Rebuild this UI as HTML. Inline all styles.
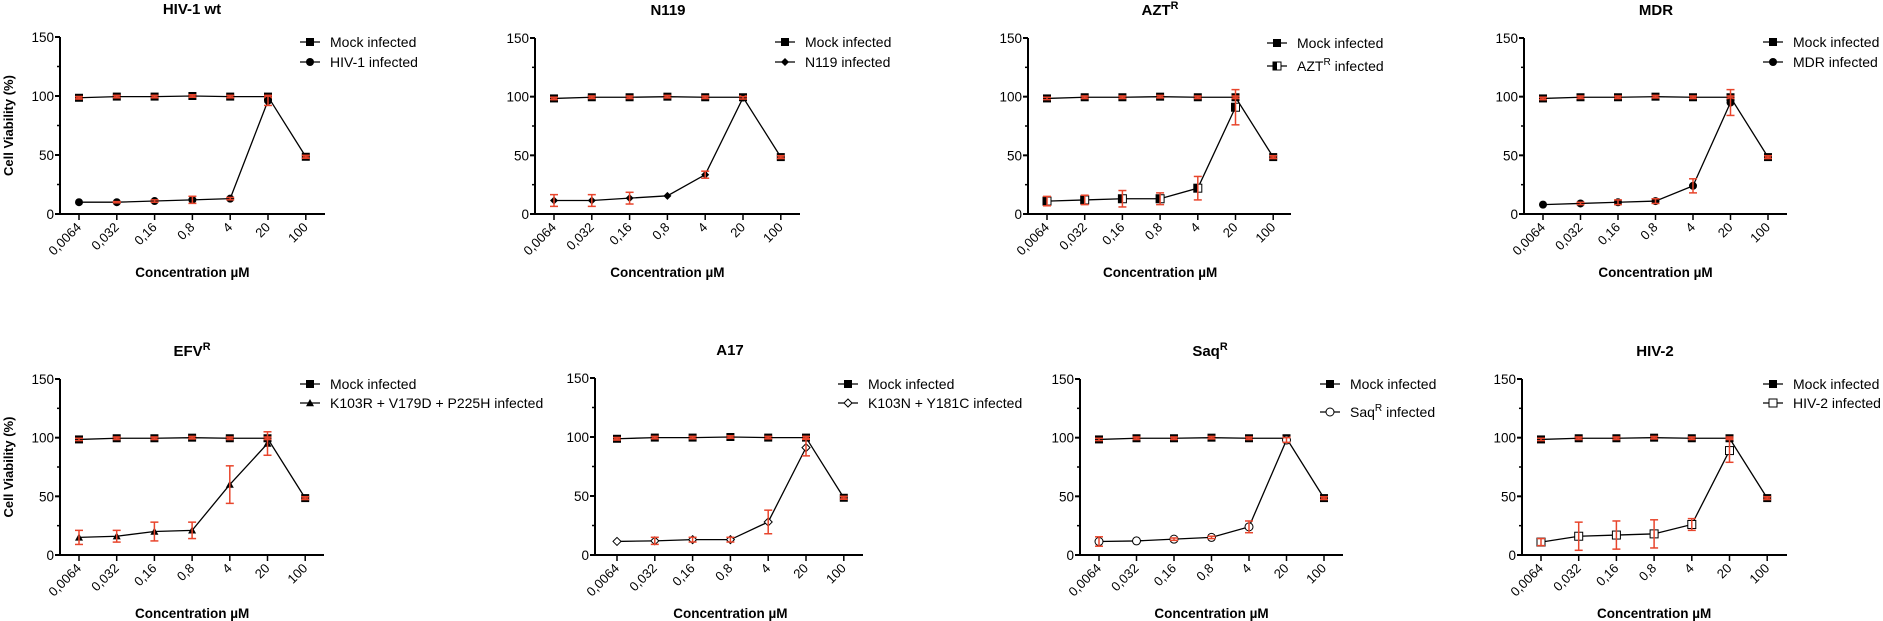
<!DOCTYPE html>
<html><head><meta charset="utf-8"><style>
html,body{margin:0;padding:0;background:#fff;}
svg{display:block;font-family:"Liberation Sans",Arial,sans-serif;}
</style></head><body>
<svg id="fig" width="1883" height="621" viewBox="0 0 1883 621" xmlns="http://www.w3.org/2000/svg"></svg>
<script>
const categories = ["0,0064","0,032","0,16","0,8","4","20","100"];
const yTicks = [0,50,100,150];
const mockValues = [98.5,99.5,99.5,100,99.5,99.5,48.5];
const mockErrors = [1,1,1,1,1,1,1.2];
const panelTitles = ["HIV-1 wt","N119","AZT|R","MDR","EFV|R","A17","Saq|R","HIV-2"];
const infectedLabels = ["HIV-1 infected","N119 infected","AZT|R| infected","MDR infected","K103R + V179D + P225H  infected","K103N + Y181C  infected","Saq|R| infected","HIV-2 infected"];
const markerTypes = ["circle","diamond","halfsquare","circle","triangle","opendiamond","opencircle","opensquare"];
const infected1 = [10,10,11,12,13,96];
const infected2 = [11.5,11.5,13.5,15.5,33.5,99];
const infected3 = [11,12,13,13,22,91];
const infected4 = [8,9,10,11,24,95];
const infected5 = [15,16,20,21,60,95];
const infected6 = [11.5,12,13,13,28,91];
const infected7 = [11.5,12,13.5,15,24,98];
const infected8 = [11,16,17,18,26,89];
const errors1 = [0,0.5,1,3,1,4];
const errors2 = [5,5,5,0,3,1];
const errors3 = [4,4,7,5,10,15];
const errors4 = [0,1,2,2,6,11];
const errors5 = [6,5,8,7,16,10];
const errors6 = [0,3,2,2,10,7];
const errors7 = [4,0,1,1,5,2];
const errors8 = [3,12,12,12,5,10];
const infectedSeries = [infected1,infected2,infected3,infected4,infected5,infected6,infected7,infected8];
const errorSeries = [errors1,errors2,errors3,errors4,errors5,errors6,errors7,errors8];

// layout (not data)
const layouts = [
 {ax:60, x0:79, dx:37.8, xEnd:325, yTop:37, yBot:214, legX:300, legY:[42,62], titleX:192},
 {ax:535, x0:554, dx:37.8, xEnd:800, yTop:38, yBot:214, legX:775, legY:[42,62], titleX:668},
 {ax:1028, x0:1047, dx:37.7, xEnd:1291, yTop:38, yBot:214, legX:1267, legY:[43,66], titleX:1160},
 {ax:1524, x0:1543, dx:37.5, xEnd:1787, yTop:38, yBot:214, legX:1763, legY:[42,62], titleX:1656},
 {ax:60, x0:79, dx:37.7, xEnd:324, yTop:379, yBot:555, legX:300, legY:[384,403], titleX:192},
 {ax:595, x0:617, dx:37.8, xEnd:863, yTop:378, yBot:555, legX:838, legY:[384,403], titleX:730},
 {ax:1080, x0:1099, dx:37.5, xEnd:1343, yTop:379, yBot:555, legX:1320, legY:[384,412], titleX:1210},
 {ax:1522, x0:1541, dx:37.7, xEnd:1787, yTop:379, yBot:555, legX:1763, legY:[384,403], titleX:1655}
];
const RED = "#e8452c";
const svg = document.getElementById('fig');
const NS = "http://www.w3.org/2000/svg";
function mk(tag, attrs, parent){ const e=document.createElementNS(NS,tag); for(const k in attrs) e.setAttribute(k,attrs[k]); (parent||svg).appendChild(e); return e; }
function richText(el, s){
  const parts = s.split('|');
  parts.forEach((p,i)=>{ if(!p) return; const t=document.createElementNS(NS,'tspan');
    if(i%2===1){ t.setAttribute('dy','-6'); t.setAttribute('font-size','0.72em'); }
    else if(i>0){ t.setAttribute('dy','6'); }
    t.textContent=p; el.appendChild(t); });
}
function marker(g,type,x,y,s){
  s=s||4;
  let m;
  if(type==='square'){ m=mk('rect',{x:x-s,y:y-s,width:2*s,height:2*s,fill:'#000'},g); }
  else if(type==='circle'){ m=mk('circle',{cx:x,cy:y,r:s,fill:'#000'},g); }
  else if(type==='opencircle'){ m=mk('circle',{cx:x,cy:y,r:s,fill:'#fff',stroke:'#000','stroke-width':1},g); }
  else if(type==='diamond'){ m=mk('polygon',{points:`${x},${y-s} ${x+s},${y} ${x},${y+s} ${x-s},${y}`,fill:'#000'},g); }
  else if(type==='opendiamond'){ m=mk('polygon',{points:`${x},${y-s} ${x+s},${y} ${x},${y+s} ${x-s},${y}`,fill:'#fff',stroke:'#000','stroke-width':1},g); }
  else if(type==='triangle'){ m=mk('polygon',{points:`${x},${y-s} ${x+s},${y+s*0.8} ${x-s},${y+s*0.8}`,fill:'#000'},g); }
  else if(type==='opensquare'){ m=mk('rect',{x:x-s,y:y-s,width:2*s,height:2*s,fill:'#fff',stroke:'#000','stroke-width':1},g); }
  else if(type==='halfsquare'){ m=mk('rect',{x:x-s,y:y-s,width:2*s,height:2*s,fill:'#fff',stroke:'#000','stroke-width':1},g);
    mk('rect',{x:x-s,y:y-s,width:s,height:2*s,fill:'#000'},g); }
  return m;
}
layouts.forEach((L,p)=>{
  const g = mk('g',{});
  
  
  const yS = v => L.yBot - (v/150)*(L.yBot-L.yTop);
  const xS = i => L.x0 + i*L.dx;
  // title
  const t = mk('text',{x:L.titleX,y:L.yTop-23,'text-anchor':'middle','font-size':15,'font-weight':'bold',fill:'#000'},g);
  
  
  richText(t,panelTitles[p]);
  // axes
  const ya = mk('line',{x1:L.ax,y1:L.yTop,x2:L.ax,y2:L.yBot+1,stroke:'#000','stroke-width':2},g);
  
  
  const xa = mk('line',{x1:L.ax-1,y1:L.yBot,x2:L.xEnd,y2:L.yBot,stroke:'#000','stroke-width':2},g);
  
  
  yTicks.forEach(v=>{
    mk('line',{x1:L.ax-5,y1:yS(v),x2:L.ax,y2:yS(v),stroke:'#000','stroke-width':2},g);
    const tl = mk('text',{x:L.ax-6,y:yS(v)+5,'text-anchor':'end','font-size':13.5,fill:'#000'},g);
    
    
    tl.textContent=v;
  });
  [25,75,125].forEach(v=>{ mk('line',{x1:L.ax-3,y1:yS(v),x2:L.ax,y2:yS(v),stroke:'#000','stroke-width':1.5},g); });
  categories.forEach((c,i)=>{
    const x=xS(i);
    mk('line',{x1:x,y1:L.yBot,x2:x,y2:L.yBot+6,stroke:'#000','stroke-width':1.5},g);
    const tl = mk('text',{x:x+3,y:L.yBot+14,'text-anchor':'end','font-size':13,fill:'#000',transform:`rotate(-45 ${x+3} ${L.yBot+14})`},g);
    
    
    tl.textContent=c;
  });
  const xt = mk('text',{x:(L.x0+xS(6))/2,y:L.yBot+63,'text-anchor':'middle','font-size':13.5,'font-weight':'bold',fill:'#000'},g);
  
  
  xt.textContent='Concentration \u00b5M';
  if(p===0||p===4){
    const cy=(L.yTop+L.yBot)/2;
    const yt = mk('text',{x:13,y:cy,'text-anchor':'middle','font-size':13,'font-weight':'bold',fill:'#000',transform:`rotate(-90 13 ${cy})`},g);
    
    
    yt.textContent='Cell Viability (%)';
  }
  // lines
  const inf = infectedSeries[p], err = errorSeries[p];
  const mp = mockValues.map((v,i)=>xS(i)+','+yS(v)).join(' ');
  const ml = mk('polyline',{points:mp,fill:'none',stroke:'#000','stroke-width':1.3},g);
  
  
  const ip = inf.map((v,i)=>xS(i)+','+yS(v)).join(' ');
  const il = mk('polyline',{points:ip,fill:'none',stroke:'#000','stroke-width':1.3},g);
  
  
  function errbar(x,v,e){
    if(e<=0) return;
    const y1=yS(v+e), y2=yS(v-e);
    mk('line',{x1:x,y1:y1,x2:x,y2:y2,stroke:RED,'stroke-width':1.5},g);
    mk('line',{x1:x-4,y1:y1,x2:x+4,y2:y1,stroke:RED,'stroke-width':1.5},g);
    mk('line',{x1:x-4,y1:y2,x2:x+4,y2:y2,stroke:RED,'stroke-width':1.5},g);
  }
  mockValues.forEach((v,i)=>{
    const m = marker(g,'square',xS(i),yS(v),4);
    
    
    if(i>0 || p%4!==2 && p!==4 && p!==7){ mk('rect',{x:xS(i)-3,y:yS(v)-2,width:6,height:4,fill:RED,opacity:0.8},g); }
    errbar(xS(i),v,mockErrors[i]);
  });
  inf.forEach((v,i)=>{
    const m = marker(g,markerTypes[p],xS(i),yS(v),4);
    
    
    errbar(xS(i),v,err[i]);
  });
  // legend
  const lx=L.legX;
  const l1 = mk('g',{},g);
  
  
  mk('line',{x1:lx,y1:L.legY[0],x2:lx+20,y2:L.legY[0],stroke:'#000','stroke-width':1.3},l1);
  marker(l1,'square',lx+10,L.legY[0],4);
  const lt1 = mk('text',{x:lx+30,y:L.legY[0]+5,'font-size':14,fill:'#000'},l1);
  lt1.textContent='Mock infected';
  const l2 = mk('g',{},g);
  
  
  mk('line',{x1:lx,y1:L.legY[1],x2:lx+20,y2:L.legY[1],stroke:'#000','stroke-width':1.3},l2);
  marker(l2,markerTypes[p],lx+10,L.legY[1],4);
  const lt2 = mk('text',{x:lx+30,y:L.legY[1]+5,'font-size':14,fill:'#000'},l2);
  richText(lt2,infectedLabels[p]);
});
</script>
</body></html>
